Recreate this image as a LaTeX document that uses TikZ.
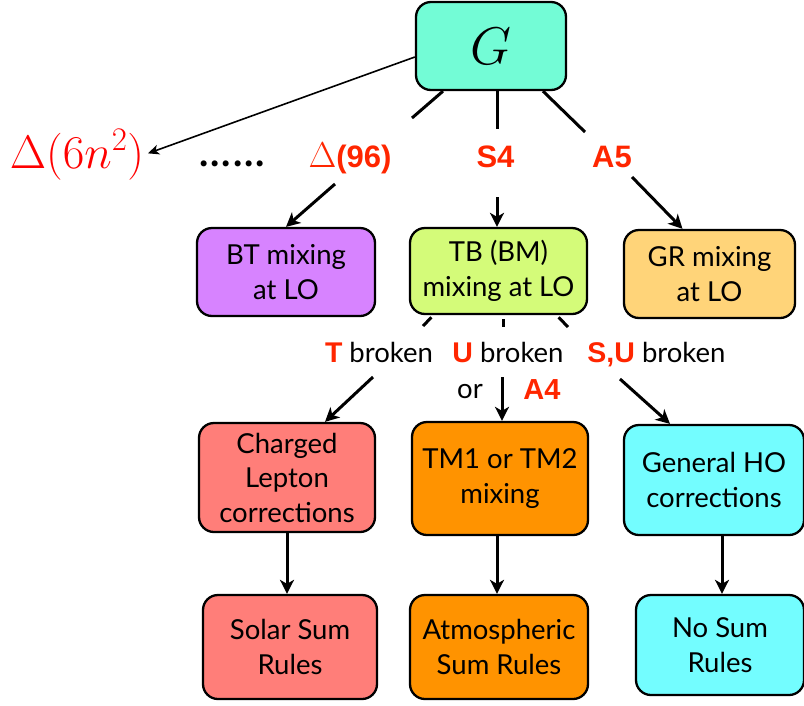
\documentclass[tikz,border=0pt]{standalone}
\usepackage{fix-cm}
\usepackage{fontspec}
\setmainfont{Lato}
\newfontfamily\arialfont{Liberation Sans}
\usetikzlibrary{arrows.meta}
\definecolor{cG}{HTML}{73FCD6}
\definecolor{cBT}{HTML}{D783FF}
\definecolor{cTB}{HTML}{D4FB79}
\definecolor{cGR}{HTML}{FFD479}
\definecolor{cCL}{HTML}{FF7E79}
\definecolor{cTM}{HTML}{FF9300}
\definecolor{cHO}{HTML}{73FDFF}
\definecolor{labred}{HTML}{FF2600}
\definecolor{purered}{HTML}{FF0000}
\newcommand{\rl}[1]{{\arialfont\bfseries\fontsize{28.5}{28.5}\selectfont\textcolor{labred}{#1}}}
\tikzset{
  box/.style={draw=black, line width=2.3pt, rounded corners=15pt, align=center, inner sep=0pt,
    font=\fontsize{27.5}{34.5}\selectfont},
  conn/.style={line width=3pt},
  arr/.style={line width=3pt, -{Stealth[length=14pt,width=14pt,inset=4pt]}},
  thinarr/.style={line width=1.6pt, -{Stealth[length=11pt,width=10pt,inset=3pt]}},
  redlab/.style={inner sep=0pt, anchor=base, text=labred, font=\fontsize{31}{31}\arialfont\bfseries},
  plain/.style={inner sep=0pt, anchor=base, font=\fontsize{27.5}{30}\selectfont},
}
\begin{document}
\begin{tikzpicture}[x=1pt,y=-1pt]
\useasboundingbox (0,0) rectangle (804,705);
% top
\node[box, fill=cG, minimum width=150pt, minimum height=88pt] (G) at (491,46) {\fontsize{53}{53}\selectfont$G$};
\node[inner sep=0pt, anchor=base, text=purered, font=\fontsize{47}{47}\selectfont] (d6) at (77,168) {$\Delta(6n^2)$};
\node[inner sep=0pt, anchor=base, font=\fontsize{48}{48}\selectfont] (dots) at (232,166) {......};
\node[inner sep=0pt, anchor=base, text=labred] (d96) at (350,167) {\fontsize{36}{36}\selectfont$\Delta$\fontsize{31}{31}\arialfont\bfseries(96)};
\node[redlab] (s4) at (495.5,167) {S4};
\node[redlab] (a5) at (612,167) {A5};
% row 2
\node[box, fill=cBT, minimum width=178pt, minimum height=88pt] (BT) at (286,272) {BT mixing\\at LO};
\node[box, fill=cTB, minimum width=177pt, minimum height=86pt] (TB) at (498.5,271) {TB (BM)\\mixing at LO};
\node[box, fill=cGR, minimum width=171pt, minimum height=88pt] (GR) at (709.5,274) {GR mixing\\at LO};
% labels
\node[plain] (lT) at (379,362) {\rl{T} broken};
\node[plain] (lU) at (508,362) {\rl{U} broken};
\node[plain] (lSU) at (656.5,362) {\rl{S,U} broken};
\node[plain] (lor) at (470,398) {or};
\node[redlab, font=\fontsize{29}{29}\arialfont\bfseries] (lA4) at (542,399) {A4};
% row 3
\node[box, fill=cCL, minimum width=176pt, minimum height=109pt] (CL) at (287,477.5) {Charged\\Lepton\\corrections};
\node[box, fill=cTM, minimum width=176pt, minimum height=113pt] (TM) at (500,478.5) {TM1 or TM2\\mixing};
\node[box, fill=cHO, minimum width=180pt, minimum height=110pt] (GH) at (714,480) {General HO\\corrections};
% row 4
\node[box, fill=cCL, minimum width=174pt, minimum height=104pt] (SS) at (290,647) {Solar Sum\\Rules};
\node[box, fill=cTM, minimum width=178pt, minimum height=104pt] (AS) at (499,647) {Atmospheric\\Sum Rules};
\node[box, fill=cHO, minimum width=168pt, minimum height=100pt] (NS) at (720,645) {No Sum\\Rules};
% coordinates
\coordinate (k1) at (412,118);
\coordinate (k2) at (497,129);
\coordinate (k3) at (585,132);
\coordinate (m1) at (335,184);
\coordinate (m2) at (497,197);
\coordinate (m3) at (632,177);
\coordinate (p1) at (423,326);
\coordinate (p2) at (503,327);
\coordinate (p3) at (568,327);
\coordinate (n1) at (373,377);
\coordinate (n2) at (502,377);
\coordinate (n3) at (620,379);
\coordinate (t1) at ([xshift=-3pt]TM.south);
\coordinate (t2) at ([xshift=8pt]GH.south);
% connectors
\draw[thinarr, shorten >=4pt] ([yshift=-11pt]G.west) -- (d6.east);
\draw[conn] ([xshift=-48pt]G.south) -- (k1);
\draw[conn] ([xshift=6pt]G.south) -- (k2);
\draw[conn] ([xshift=52pt]G.south) -- (k3);
\draw[arr] (m1) -- (BT.north);
\draw[arr] (m2) -- (m2 |- TB.north);
\draw[arr] (m3) -- ([xshift=-27pt]GR.north);
\draw[conn, shorten <=3pt] ([xshift=-65pt]TB.south) -- (p1);
\draw[conn, shorten <=4pt] ([xshift=4.5pt]TB.south) -- (p2);
\draw[conn, shorten <=3pt] ([xshift=58pt]TB.south) -- (p3);
\draw[arr] (n1) -- ([xshift=38pt]CL.north);
\draw[arr] (n2) -- (n2 |- TM.north);
\draw[arr] (n3) -- ([xshift=-44pt]GH.north);
\draw[arr] (CL.south) -- (CL.south |- SS.north);
\draw[arr] (t1) -- (t1 |- AS.north);
\draw[arr] (t2) -- (t2 |- NS.north);
\end{tikzpicture}
\end{document}
